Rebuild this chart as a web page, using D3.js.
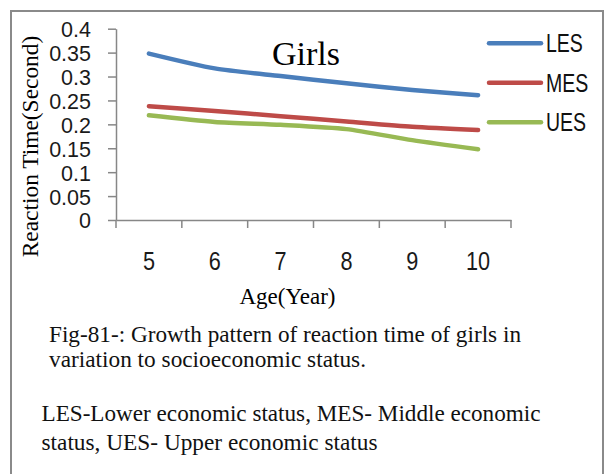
<!DOCTYPE html>
<html>
<head>
<meta charset="utf-8">
<script src="https://cdn.jsdelivr.net/npm/d3@7"></script>
<style>
  html, body { margin: 0; padding: 0; background: #fff; }
  svg { display: block; }
</style>
</head>
<body>
<svg id="chart" width="610" height="474"></svg>
<script>
// Reaction time (seconds) of girls by age and socioeconomic status
const ages = [5, 6, 7, 8, 9, 10];
const seriesNames = ["LES", "MES", "UES"];
const les = [0.348, 0.317, 0.301, 0.286, 0.272, 0.261];
const mes = [0.238, 0.228, 0.217, 0.206, 0.195, 0.188];
const ues = [0.219, 0.205, 0.199, 0.190, 0.167, 0.148];
const yTicks = [0, 0.05, 0.1, 0.15, 0.2, 0.25, 0.3, 0.35, 0.4];
const colors = ["#4A7EBB", "#BE4B48", "#98B954"];

const chartTitle = "Girls";
const yTitle = "Reaction Time(Second)";
const xTitle = "Age(Year)";
const captionLines = [
  "Fig-81-: Growth pattern of reaction time of girls in",
  "variation to socioeconomic status."
];
const noteLines = [
  "LES-Lower economic status, MES- Middle economic",
  "status, UES- Upper economic status"
];

const series = seriesNames.map((name, i) => ({
  name,
  color: colors[i],
  values: [les, mes, ues][i].map((v, j) => ({ age: ages[j], value: v }))
}));

const svg = d3.select("#chart");
const axisColor = "#878787";
const sans = "'Liberation Sans', Arial, sans-serif";
const serif = "'Liberation Serif', 'Times New Roman', serif";

// outer frame
svg.append("rect")
  .attr("x", 11).attr("y", 11)
  .attr("width", 592).attr("height", 480)
  .attr("fill", "none")
  .attr("stroke", "#8a8a8a")
  .attr("stroke-width", 2);

// scales
const x = d3.scaleBand().domain(ages).range([116, 511]).padding(0);
const y = d3.scaleLinear().domain([0, 0.4]).range([220, 28.7]);

// y axis
const yAxis = d3.axisLeft(y)
  .tickValues(yTicks)
  .tickSize(8)
  .tickSizeOuter(0)
  .tickPadding(17)
  .tickFormat(d => String(+d.toFixed(2)));

const gy = svg.append("g").attr("transform", "translate(116,0)").call(yAxis);
gy.select(".domain").attr("stroke", axisColor).attr("stroke-width", 1.5);
gy.selectAll(".tick line").attr("stroke", axisColor).attr("stroke-width", 1.5);
gy.selectAll(".tick text")
  .attr("fill", "#1a1a1a")
  .attr("font-family", sans)
  .attr("font-size", 21.5)
  .attr("dy", "0.37em");

// x axis: labels centred on categories, ticks on category boundaries
const xAxis = d3.axisBottom(x).tickSize(0).tickSizeOuter(0);
const gx = svg.append("g").attr("transform", "translate(0,220)").call(xAxis);
gx.select(".domain").attr("stroke", axisColor).attr("stroke-width", 1.5);
gx.selectAll(".tick text")
  .attr("fill", "#1a1a1a")
  .attr("font-family", sans)
  .attr("font-size", 25.5)
  .attr("x", 0)
  .attr("y", 50)
  .attr("dy", 0)
  .attr("transform", "scale(0.85,1)");

const boundaries = ages.map(a => x(a)).concat([x(ages[ages.length - 1]) + x.bandwidth()]);
gx.selectAll(".bound")
  .data(boundaries)
  .enter().append("line")
  .attr("class", "bound")
  .attr("x1", d => d).attr("x2", d => d)
  .attr("y1", 0).attr("y2", 8)
  .attr("stroke", axisColor)
  .attr("stroke-width", 1.5);

// lines
const line = d3.line()
  .x(d => x(d.age) + x.bandwidth() / 2)
  .y(d => y(d.value))
  .curve(d3.curveCardinal.tension(0.3));

svg.append("g").selectAll("path")
  .data(series)
  .enter().append("path")
  .attr("d", d => line(d.values))
  .attr("fill", "none")
  .attr("stroke", d => d.color)
  .attr("stroke-width", 4.5)
  .attr("stroke-linecap", "round")
  .attr("stroke-linejoin", "round");

// legend
const legend = svg.append("g");
const legendY = d3.scalePoint().domain(seriesNames).range([43.3, 122.3]);
series.forEach(s => {
  const ly = legendY(s.name);
  legend.append("line")
    .attr("x1", 489).attr("x2", 541)
    .attr("y1", ly).attr("y2", ly)
    .attr("stroke", s.color)
    .attr("stroke-width", 4.5)
    .attr("stroke-linecap", "round");
  legend.append("text")
    .attr("transform", `translate(546,${ly + 9}) scale(0.75,1)`)
    .attr("font-family", sans)
    .attr("font-size", 26)
    .attr("fill", "#111")
    .text(s.name);
});

// chart title
svg.append("text")
  .attr("x", 272).attr("y", 65)
  .attr("font-family", serif)
  .attr("font-size", 34)
  .attr("fill", "#000")
  .text(chartTitle);

// axis titles
svg.append("text")
  .attr("transform", "translate(38,146.5) rotate(-90)")
  .attr("text-anchor", "middle")
  .attr("font-family", serif)
  .attr("font-size", 23.4)
  .attr("fill", "#000")
  .text(yTitle);

svg.append("text")
  .attr("x", 287.5).attr("y", 304)
  .attr("text-anchor", "middle")
  .attr("font-family", serif)
  .attr("font-size", 23)
  .attr("fill", "#000")
  .text(xTitle);

// caption and note
const captionSpecs = [
  { text: captionLines[0], x: 49, y: 342, w: 472 },
  { text: captionLines[1], x: 49, y: 366.5, w: 317 },
  { text: noteLines[0], x: 41.5, y: 421, w: 499 },
  { text: noteLines[1], x: 41.5, y: 450, w: 336 }
];
svg.append("g").selectAll("text")
  .data(captionSpecs)
  .enter().append("text")
  .attr("x", d => d.x).attr("y", d => d.y)
  .attr("font-family", serif)
  .attr("font-size", 22.5)
  .attr("fill", "#111")
  .attr("textLength", d => d.w)
  .attr("lengthAdjust", "spacingAndGlyphs")
  .text(d => d.text);
</script>
</body>
</html>
